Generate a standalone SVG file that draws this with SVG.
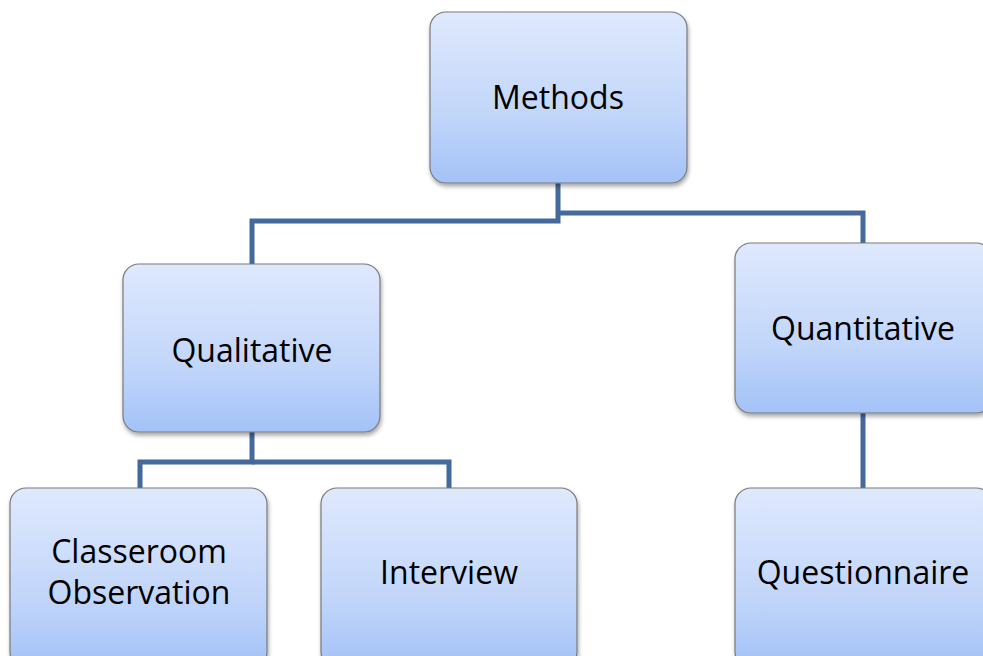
<svg xmlns="http://www.w3.org/2000/svg" width="983" height="656" viewBox="0 0 983 656">
<defs>
<linearGradient id="g" x1="0" y1="0" x2="0" y2="1">
<stop offset="0" stop-color="#dfe9fd"/>
<stop offset="0.6" stop-color="#c2d6fa"/>
<stop offset="1" stop-color="#a3c2f7"/>
</linearGradient>
<filter id="sh" x="-10%" y="-10%" width="130%" height="130%">
<feGaussianBlur in="SourceAlpha" stdDeviation="2"/>
<feOffset dx="1" dy="3" result="b"/>
<feComponentTransfer><feFuncA type="linear" slope="0.35"/></feComponentTransfer>
<feMerge><feMergeNode/><feMergeNode in="SourceGraphic"/></feMerge>
</filter>
</defs>
<style>
.box{fill:url(#g);stroke:#7a7a7a;stroke-width:1.2;filter:url(#sh)}
.t{font-family:"Open Sans","Liberation Sans",sans-serif;font-size:32px;fill:#000;text-anchor:middle}
.c{fill:none;stroke:#44699c;stroke-width:5;stroke-linejoin:miter}
</style>
<rect width="983" height="656" fill="#fff"/>
<g id="connectors">
<path class="c" d="M558 183 V221 H252 V264"/>
<path class="c" d="M558 213 H863 V243"/>
<path class="c" d="M252 432 V462 H140 V488"/>
<path class="c" d="M252 462 H449 V488"/>
<path class="c" d="M863 413 V488"/>
</g>
<g id="methods">
<rect class="box" x="430" y="12" width="257" height="171" rx="16"/>
<text class="t" x="558" y="109">Methods</text>
</g>
<g id="qualitative">
<rect class="box" x="123" y="264" width="257" height="168" rx="16"/>
<text class="t" x="252" y="362">Qualitative</text>
</g>
<g id="quantitative">
<rect class="box" x="735" y="243" width="257" height="170" rx="16"/>
<text class="t" x="863" y="340">Quantitative</text>
</g>
<g id="classeroom">
<rect class="box" x="10" y="488" width="257" height="180" rx="16"/>
<text class="t" x="139" y="563">Classeroom</text>
<text class="t" x="139" y="604">Observation</text>
</g>
<g id="interview">
<rect class="box" x="321" y="488" width="256" height="180" rx="16"/>
<text class="t" x="449" y="584">Interview</text>
</g>
<g id="questionnaire">
<rect class="box" x="735" y="488" width="257" height="180" rx="16"/>
<text class="t" x="863" y="584">Questionnaire</text>
</g>
</svg>
